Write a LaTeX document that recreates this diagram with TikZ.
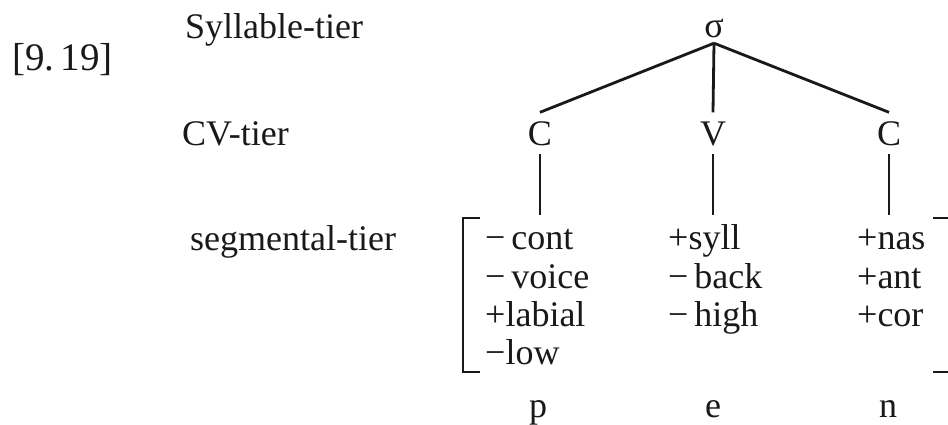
\documentclass[tikz,border=0pt]{standalone}
\usepackage{fontspec}
\setmainfont{Liberation Serif}
\begin{document}
\begin{tikzpicture}[x=1pt,y=-1pt,
  every node/.style={font=\fontsize{36}{38}\selectfont, inner sep=0pt, text=black!90},
  lbl/.style={anchor=base west},
  seg/.style={anchor=base, text height=24pt, text depth=0pt, inner xsep=0pt, inner ysep=8.5pt},
  feat/.style={anchor=base west},
  phon/.style={anchor=base},
  link/.style={line width=2.8pt, draw=black!90},
  brk/.style={line width=2.8pt, draw=black!90}]
\useasboundingbox (0,0) rectangle (948,424);

% labels
\node[lbl, font=\fontsize{39}{40}\selectfont] (num) at (12,70) {[9.\,19]};
\node[lbl] (syltier) at (185,38) {Syllable-tier};
\node[lbl] (cvtier) at (182,145) {CV-tier};
\node[lbl] (segtier) at (190,250) {segmental-tier};

% tree
\node[seg, text height=15pt, inner ysep=6pt] (sigma) at (714,37) {σ};
\node[seg] (c1) at (540,145) {C};
\node[seg] (v) at (713,145) {V};
\node[seg] (c2) at (889,145) {C};
\coordinate (segtop) at (0,215);

\draw[link] (sigma.south) -- (c1.north);
\draw[link] (sigma.south) -- (v.north);
\draw[link] (sigma.south) -- (c2.north);
\draw[link] (c1.south) -- (c1.south |- segtop);
\draw[link] (v.south) -- (v.south |- segtop);
\draw[link] (c2.south) -- (c2.south |- segtop);

% feature matrix
\node[feat] (f11) at (485,249) {−\,cont};
\node[feat] (f12) at (485,288) {−\,voice};
\node[feat] (f13) at (485,326) {+labial};
\node[feat] (f14) at (485,364) {−low};
\node[feat] (f21) at (668,249) {+syll};
\node[feat] (f22) at (668,288) {−\,back};
\node[feat] (f23) at (668,326) {−\,high};
\node[feat] (f31) at (857,249) {+nas};
\node[feat] (f32) at (857,288) {+ant};
\node[feat] (f33) at (857,326) {+cor};

% brackets
\draw[brk] (480,218) -- (463,218) -- (463,372) -- (480,372);
\draw[brk] (933,218) -- (950,218) -- (950,372) -- (933,372);

% segments
\node[phon] (p) at (538,417) {p};
\node[phon] (e) at (713,417) {e};
\node[phon] (n) at (888,417) {n};
\end{tikzpicture}
\end{document}
